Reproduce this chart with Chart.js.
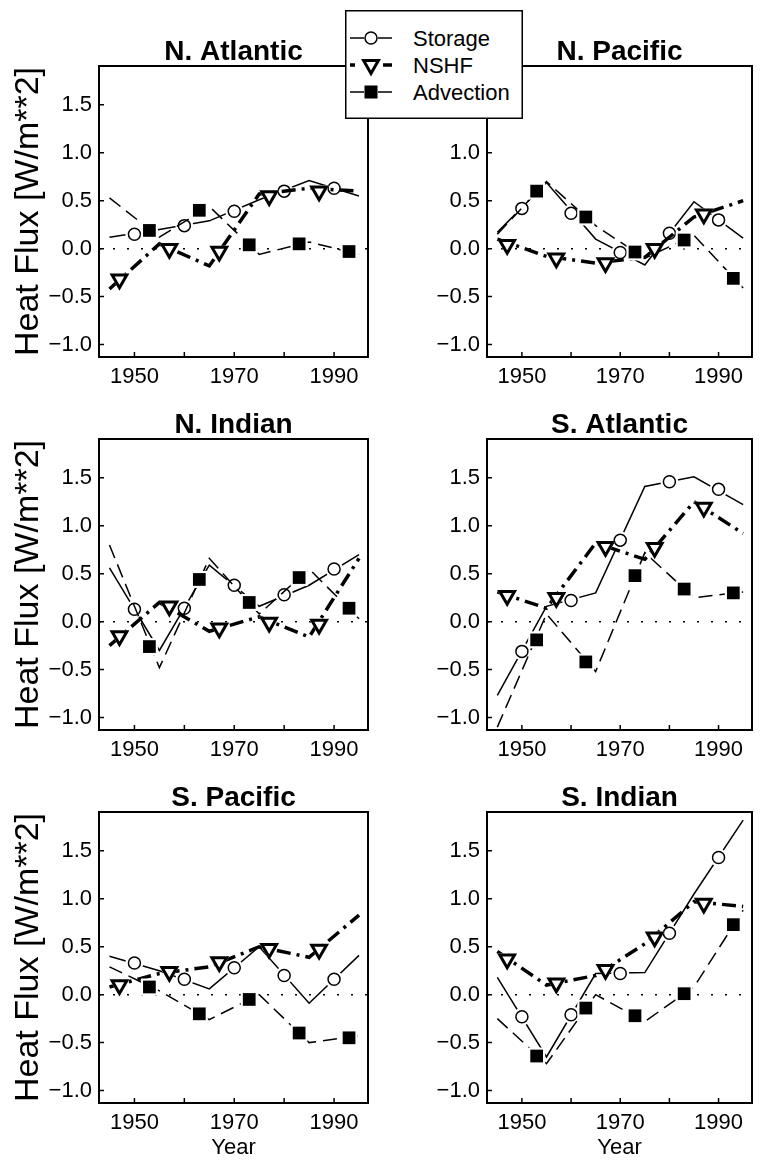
<!DOCTYPE html>
<html>
<head>
<meta charset="utf-8">
<script src="https://cdn.jsdelivr.net/npm/chart.js@4.4.0/dist/chart.umd.min.js"></script>
<style>
  body { margin: 0; width: 764px; height: 1162px; background: #fff; position: relative; overflow: hidden; }
  canvas { position: absolute; }
  #legend { position: absolute; left: 345px; top: 10px; z-index: 5; }
</style>
</head>
<body>
<div id="panels"></div>
<svg id="legend" width="178" height="109" font-family="Liberation Sans, Arial, sans-serif" font-size="22">
  <rect x="0.75" y="0.75" width="176.5" height="107.5" fill="#fff" stroke="#000" stroke-width="1.5"/>
  <line x1="5" y1="28" x2="19" y2="28" stroke="#000" stroke-width="1.5"/>
  <line x1="33" y1="28" x2="47" y2="28" stroke="#000" stroke-width="1.5"/>
  <circle cx="26" cy="28" r="6" fill="#fff" stroke="#000" stroke-width="1.5"/>
  <text x="68" y="36">Storage</text>
  <line x1="5" y1="55" x2="10" y2="55" stroke="#000" stroke-width="3.5"/>
  <line x1="38" y1="55" x2="47" y2="55" stroke="#000" stroke-width="3.5"/>
  <polygon points="18.6,50.5 33.4,50.5 26,63.5" fill="#fff" stroke="#000" stroke-width="3"/>
  <text x="68" y="63">NSHF</text>
  <line x1="5" y1="82" x2="19" y2="82" stroke="#000" stroke-width="1.5"/>
  <line x1="33" y1="82" x2="47" y2="82" stroke="#000" stroke-width="1.5"/>
  <rect x="19.5" y="75.5" width="13" height="13" fill="#000"/>
  <text x="68" y="90">Advection</text>
</svg>
<script>
// Heat flux terms per basin (W/m**2), one row per region
const regions = ['N. Atlantic', 'N. Pacific', 'N. Indian', 'S. Atlantic', 'S. Pacific', 'S. Indian'];
const lineYears = [1945, 1955, 1965, 1975, 1985, 1995];
const storageYears = [1950, 1960, 1970, 1980, 1990];
const nshfYears = [1947, 1957, 1967, 1977, 1987];
const advectionYears = [1953, 1963, 1973, 1983, 1993];
const yearLabels = [1950, 1970, 1990];

const storageLine = [
    [0.12, 0.2, 0.29, 0.51, 0.71, 0.55],
    [0.17, 0.69, 0.1, -0.17, 0.49, 0.11],
    [0.56, -0.3, 0.59, 0.16, 0.38, 0.7],
    [-0.77, 0.16, 0.3, 1.41, 1.51, 1.22],
    [0.4, 0.25, 0.06, 0.5, -0.09, 0.41],
    [0.18, -0.65, 0.22, 0.23, 1.05, 1.82]
];
const storageMarks = [
    [0.15, 0.24, 0.39, 0.6, 0.63],
    [0.42, 0.37, -0.04, 0.16, 0.3],
    [0.13, 0.14, 0.38, 0.28, 0.55],
    [-0.31, 0.22, 0.85, 1.46, 1.38],
    [0.33, 0.16, 0.28, 0.2, 0.16],
    [-0.23, -0.21, 0.22, 0.64, 1.43]
];
const nshfLine = [
    [-0.42, 0.05, -0.18, 0.57, 0.63, 0.6],
    [0.1, -0.08, -0.15, -0.09, 0.33, 0.5],
    [-0.25, 0.2, -0.1, 0.05, -0.16, 0.66],
    [0.31, 0.14, 0.82, 0.65, 1.25, 0.92],
    [0.08, 0.22, 0.29, 0.5, 0.39, 0.83],
    [0.45, 0.1, 0.2, 0.53, 0.97, 0.92]
];
const nshfMarks = [
    [-0.32, 0.0, -0.03, 0.55, 0.6],
    [0.04, -0.1, -0.15, 0.0, 0.36],
    [-0.15, 0.16, -0.07, -0.01, -0.03],
    [0.27, 0.25, 0.78, 0.77, 1.19],
    [0.1, 0.24, 0.34, 0.48, 0.47],
    [0.37, 0.12, 0.26, 0.6, 0.95]
];
const advectionLine = [
    [0.53, 0.12, 0.44, -0.06, 0.07, -0.06],
    [0.15, 0.7, 0.24, -0.1, 0.14, -0.41],
    [0.8, -0.48, 0.66, 0.08, 0.55, 0.03],
    [-1.1, 0.08, -0.52, 0.72, 0.25, 0.31],
    [0.29, 0.04, -0.26, 0.0, -0.5, -0.43],
    [-0.25, -0.72, 0.0, -0.28, 0.08, 0.88]
];
const advectionMarks = [
    [0.19, 0.4, 0.04, 0.05, -0.03],
    [0.6, 0.33, -0.035, 0.09, -0.31],
    [-0.26, 0.44, 0.2, 0.46, 0.14],
    [-0.19, -0.42, 0.48, 0.34, 0.3],
    [0.08, -0.2, -0.05, -0.4, -0.45],
    [-0.64, -0.14, -0.22, 0.01, 0.73]
];

const X_MIN = 1942.9, X_MAX = 1996.8;
const Y_MIN = -1.13, Y_MAX = 1.905;
const FONT = 'Liberation Sans, Arial, sans-serif';

// box round the plot and short inward ticks on the left and bottom
const framePlugin = {
    id: 'frame',
    afterDraw(chart) {
        const { ctx, chartArea: a, scales } = chart;
        ctx.save();
        ctx.strokeStyle = '#000';
        ctx.lineWidth = 2;
        ctx.strokeRect(a.left, a.top, a.right - a.left, a.bottom - a.top);
        ctx.lineWidth = 1.5;
        ctx.beginPath();
        scales.x.ticks.forEach(t => {
            const px = scales.x.getPixelForValue(t.value);
            ctx.moveTo(px, a.bottom);
            ctx.lineTo(px, a.bottom - 5);
        });
        scales.y.ticks.forEach(t => {
            const py = scales.y.getPixelForValue(t.value);
            ctx.moveTo(a.left, py);
            ctx.lineTo(a.left + 5, py);
        });
        ctx.stroke();
        ctx.restore();
    }
};

function pts(xs, ys) {
    return xs.map((x, k) => ({ x: x, y: ys[k] }));
}

function lineSet(ys, width, dash, order) {
    return {
        data: pts(lineYears, ys),
        borderColor: '#000',
        borderWidth: width,
        borderDash: dash,
        pointRadius: 0,
        tension: 0,
        fill: false,
        order: order
    };
}

function markSet(xs, ys, style, radius, fill, bw, order, halo) {
    return {
        data: pts(xs, ys),
        showLine: false,
        pointStyle: style,
        pointRotation: style === 'triangle' ? 180 : 0,
        pointRadius: halo ? radius + 3 : radius,
        pointBackgroundColor: halo ? '#fff' : fill,
        pointBorderColor: halo ? '#fff' : '#000',
        pointBorderWidth: halo ? 0 : bw,
        order: order
    };
}

const cols = [
    { left: 0, width: 380, axisW: 99, padR: 8 },
    { left: 382, width: 382, axisW: 105, padR: 4 }
];
const rows = [
    { top: 38, axisH: 40 },
    { top: 411, axisH: 40 },
    { top: 784, axisH: 58 }
];

regions.forEach((name, i) => {
    const col = cols[i % 2], row = rows[Math.floor(i / 2)];
    const isLast = i >= 4;
    const canvas = document.createElement('canvas');
    canvas.width = col.width;
    canvas.height = 28 + 291 + row.axisH;
    canvas.style.left = col.left + 'px';
    canvas.style.top = row.top + 'px';
    document.getElementById('panels').appendChild(canvas);

    new Chart(canvas.getContext('2d'), {
        type: 'line',
        data: {
            datasets: [
                { data: [{ x: X_MIN, y: 0 }, { x: X_MAX, y: 0 }], borderColor: '#000', borderWidth: 1.5,
                  borderDash: [2, 12], pointRadius: 0, order: 20 },
                lineSet(storageLine[i], 1.5, [], 12),
                markSet(storageYears, storageMarks[i], 'circle', 6, '#fff', 1.5, 11, true),
                markSet(storageYears, storageMarks[i], 'circle', 6, '#fff', 1.5, 10, false),
                lineSet(nshfLine[i], 3.5, [14, 6, 3, 6], 9),
                markSet(nshfYears, nshfMarks[i], 'triangle', 8.5, '#fff', 3, 8, true),
                markSet(nshfYears, nshfMarks[i], 'triangle', 8.5, '#fff', 3, 7, false),
                lineSet(advectionLine[i], 1.5, [14, 7], 6),
                markSet(advectionYears, advectionMarks[i], 'rect', 9, '#000', 0, 5, true),
                markSet(advectionYears, advectionMarks[i], 'rect', 9, '#000', 0, 4, false)
            ]
        },
        options: {
            responsive: false,
            animation: false,
            events: [],
            layout: { padding: { top: 0, right: col.padR, bottom: 0, left: 0 } },
            plugins: {
                legend: { display: false },
                tooltip: { enabled: false },
                title: {
                    display: true,
                    text: name,
                    fullSize: false,
                    color: '#000',
                    padding: 0,
                    font: { family: FONT, size: 28, weight: 'bold', lineHeight: 1 }
                }
            },
            scales: {
                x: {
                    type: 'linear',
                    min: X_MIN,
                    max: X_MAX,
                    grid: { display: false, drawTicks: false },
                    border: { display: false },
                    ticks: {
                        stepSize: 10,
                        includeBounds: false,
                        autoSkip: false,
                        maxRotation: 0,
                        padding: 7,
                        color: '#000',
                        font: { family: FONT, size: 22 },
                        callback: v => yearLabels.includes(v) ? String(v) : ''
                    },
                    title: {
                        display: isLast,
                        text: 'Year',
                        color: '#000',
                        padding: { top: 0, bottom: 2 },
                        font: { family: FONT, size: 22, lineHeight: 1 }
                    },
                    afterFit: s => { s.height = row.axisH; }
                },
                y: {
                    min: Y_MIN,
                    max: Y_MAX,
                    grid: { display: false, drawTicks: false },
                    border: { display: false },
                    ticks: {
                        stepSize: 0.5,
                        includeBounds: false,
                        padding: 7,
                        color: '#000',
                        font: { family: FONT, size: 22 },
                        callback: v => Math.abs(v) < 1e-9 ? '0.0' : v.toFixed(1).replace('-', '\u2212')
                    },
                    title: {
                        display: i % 2 === 0,
                        text: 'Heat Flux [W/m**2]',
                        color: '#000',
                        padding: { top: 11.5, bottom: 0 },
                        font: { family: FONT, size: 34, lineHeight: 1 }
                    },
                    afterFit: s => { s.width = col.axisW; }
                }
            }
        },
        plugins: [framePlugin]
    });
});
</script>
</body>
</html>
